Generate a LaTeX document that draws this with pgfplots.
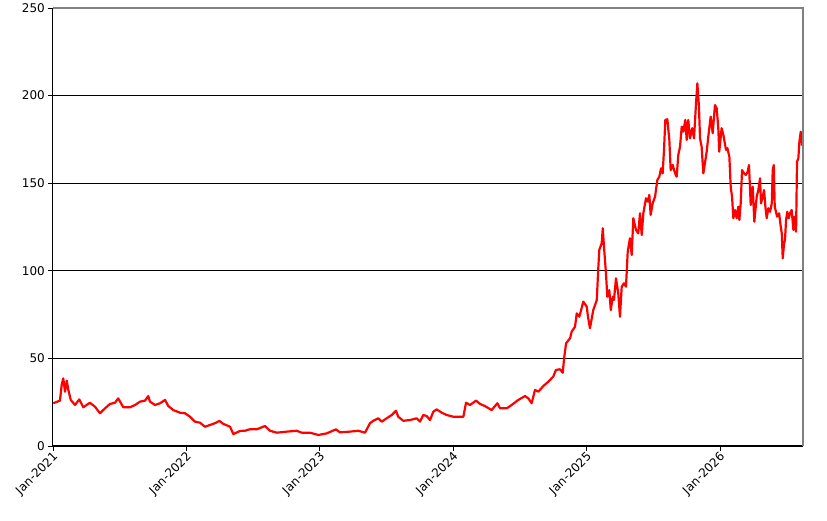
\documentclass[border=0pt]{standalone}
\usepackage{pgfplots}
\pgfplotsset{compat=1.18}
\usepackage{fontspec}
\setmainfont{DejaVu Sans}
\begin{document}
\begin{tikzpicture}[x=1pt,y=1pt]
\path[use as bounding box] (-53pt,-75pt) rectangle (774pt,446pt);
\begin{axis}[
  at={(0pt,0pt)}, anchor=south west,
  scale only axis, width=750pt, height=438pt,
  xmin=2021, xmax=2026.622, ymin=0, ymax=250,
  axis x line*=bottom, axis y line*=left,
  axis line style={black, line width=1pt},
  ytick={0,50,100,150,200,250},
  xtick={2021,2022,2023,2024,2025,2026},
  xticklabels={Jan-2021,Jan-2022,Jan-2023,Jan-2024,Jan-2025,Jan-2026},
  ymajorgrids, grid style={black, line width=0.9pt},
  tick align=outside, major tick length=5pt,
  tick style={black, line width=0.9pt},
  every tick label/.style={font=\fontsize{12}{14}\selectfont},
  /pgf/number format/assume math mode=true,
  xticklabel style={rotate=45, anchor=east, inner sep=2pt, xshift=1.5pt, yshift=-5pt},
  yticklabel style={inner sep=3pt},
  clip=false,
]
\addplot[red, line width=2.2pt, line join=round] coordinates {
(2021.002,24.4) (2021.052,25.9) (2021.065,34.8) (2021.077,38.6) (2021.090,31.0)
(2021.103,37.3) (2021.115,32.0) (2021.133,26.3) (2021.165,23.4) (2021.197,26.6)
(2021.227,22.1) (2021.277,24.7) (2021.315,22.4) (2021.352,18.7) (2021.390,21.5)
(2021.427,24.0) (2021.465,24.7) (2021.489,27.2) (2021.527,22.1) (2021.577,22.1)
(2021.615,23.4) (2021.652,25.3) (2021.690,25.9) (2021.714,28.5) (2021.727,25.3)
(2021.765,23.4) (2021.802,24.4) (2021.840,26.3) (2021.864,22.8) (2021.902,20.5)
(2021.952,19.0) (2021.989,18.7) (2022.027,16.7) (2022.064,13.9) (2022.102,13.3)
(2022.139,11.0) (2022.177,12.0) (2022.214,13.0) (2022.247,14.3) (2022.277,12.6)
(2022.327,11.0) (2022.352,6.8) (2022.402,8.6) (2022.439,8.7) (2022.477,9.6)
(2022.527,9.5) (2022.589,11.4) (2022.627,8.7) (2022.677,7.6) (2022.752,8.2)
(2022.827,8.7) (2022.864,7.6) (2022.926,7.6) (2022.989,6.3) (2023.052,7.2)
(2023.121,9.5) (2023.151,7.8) (2023.226,8.2) (2023.289,8.7) (2023.339,7.6)
(2023.376,13.0) (2023.401,14.4) (2023.438,15.8) (2023.464,13.9) (2023.501,15.8)
(2023.539,17.7) (2023.571,20.1) (2023.588,16.7) (2023.626,14.4) (2023.676,14.8)
(2023.726,15.8) (2023.751,13.9) (2023.776,17.7) (2023.801,17.1) (2023.826,14.8)
(2023.851,19.6) (2023.876,20.9) (2023.914,19.0) (2023.951,17.7) (2024.001,16.7)
(2024.076,16.7) (2024.096,24.7) (2024.126,23.4) (2024.171,25.9) (2024.201,24.0)
(2024.238,22.8) (2024.288,20.5) (2024.331,24.4) (2024.351,21.5) (2024.401,21.5)
(2024.438,23.4) (2024.488,26.3) (2024.538,28.5) (2024.563,27.2) (2024.588,24.4)
(2024.613,32.0) (2024.638,31.0) (2024.675,34.2) (2024.713,36.7) (2024.750,39.6)
(2024.770,43.4) (2024.800,43.8) (2024.821,41.8) (2024.831,50.0) (2024.846,58.6)
(2024.876,61.5) (2024.888,65.3) (2024.913,68.1) (2024.926,75.7) (2024.945,73.8)
(2024.956,76.7) (2024.975,82.4) (2025.001,79.5) (2025.010,73.8) (2025.025,67.2)
(2025.050,77.6) (2025.076,83.3) (2025.088,102.3) (2025.095,111.9) (2025.113,115.7)
(2025.121,124.3) (2025.130,113.8) (2025.145,98.6) (2025.155,85.2) (2025.170,89.0)
(2025.181,77.6) (2025.196,85.2) (2025.205,83.3) (2025.220,95.7) (2025.237,87.2)
(2025.250,73.8) (2025.263,90.9) (2025.280,92.9) (2025.295,90.9) (2025.308,110.9)
(2025.325,118.6) (2025.338,109.0) (2025.350,130.0) (2025.370,123.3) (2025.387,121.4)
(2025.400,132.8) (2025.413,120.4) (2025.425,132.8) (2025.445,141.4) (2025.458,139.5)
(2025.470,143.3) (2025.480,131.9) (2025.495,138.5) (2025.513,142.3) (2025.530,151.8)
(2025.545,153.7) (2025.558,158.5) (2025.570,155.6) (2025.580,169.0) (2025.590,186.1)
(2025.605,186.5) (2025.620,174.7) (2025.630,157.5) (2025.645,160.4) (2025.663,155.6)
(2025.675,153.7) (2025.687,166.1) (2025.700,170.8) (2025.713,182.3) (2025.725,179.4)
(2025.740,186.1) (2025.750,174.7) (2025.762,186.1) (2025.775,175.6) (2025.792,181.4)
(2025.805,175.6) (2025.820,195.6) (2025.830,207.0) (2025.842,193.7) (2025.850,175.6)
(2025.862,170.8) (2025.875,155.6) (2025.900,168.0) (2025.912,176.6) (2025.930,188.0)
(2025.945,178.5) (2025.962,194.6) (2025.975,192.7) (2025.987,181.4) (2025.994,168.0)
(2026.012,181.4) (2026.025,177.5) (2026.045,169.0) (2026.055,170.0) (2026.070,165.1)
(2026.080,148.0) (2026.090,142.3) (2026.100,130.0) (2026.112,134.7) (2026.125,130.0)
(2026.137,136.6) (2026.145,129.0) (2026.155,138.5) (2026.165,157.5) (2026.180,155.6)
(2026.195,154.7) (2026.207,156.6) (2026.217,160.4) (2026.230,137.6) (2026.245,148.0)
(2026.257,128.0) (2026.275,142.3) (2026.287,146.1) (2026.300,152.8) (2026.307,138.5)
(2026.320,142.3) (2026.330,146.1) (2026.340,136.6) (2026.350,130.0) (2026.362,135.7)
(2026.375,133.7) (2026.388,138.5) (2026.395,157.5) (2026.403,160.4) (2026.410,136.6)
(2026.428,130.9) (2026.443,132.8) (2026.455,125.2) (2026.463,121.4) (2026.470,107.1)
(2026.480,115.7) (2026.487,117.6) (2026.495,129.0) (2026.504,133.7) (2026.515,130.0)
(2026.525,132.8) (2026.537,134.7) (2026.550,123.3) (2026.560,130.9) (2026.570,122.3)
(2026.577,162.3) (2026.587,164.2) (2026.595,173.7) (2026.605,179.4) (2026.615,171.8)
(2026.622,174.7)
};
\draw[gray, line width=1.2pt] (rel axis cs:0,1) -- (rel axis cs:1,1) -- (rel axis cs:1,0);
\end{axis}
\end{tikzpicture}
\end{document}
